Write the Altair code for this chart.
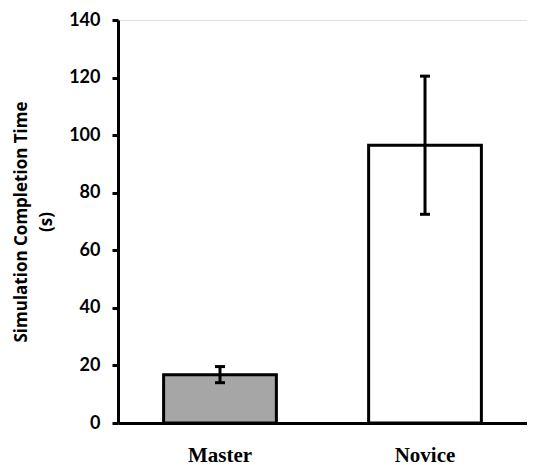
import altair as alt
import pandas as pd

groups = ["Master", "Novice"]
means = [16.8, 96.5]
errors = [2.8, 24.0]
fills = ["#a6a6a6", "#ffffff"]

df = pd.DataFrame({
    "group": groups,
    "mean": means,
    "lo": [m - e for m, e in zip(means, errors)],
    "hi": [m + e for m, e in zip(means, errors)],
    "fill": fills,
})

x = alt.X("group:N", sort=groups,
          scale=alt.Scale(paddingInner=0.45, paddingOuter=0.2225),
          axis=alt.Axis(title=None, ticks=False, labelAngle=0,
                        labelFont="Liberation Serif", labelFontWeight="bold",
                        labelFontSize=21, labelColor="black", labelPadding=21,
                        domainColor="black", domainWidth=3))

y = alt.Y("mean:Q",
          scale=alt.Scale(domain=[0, 140], nice=False),
          axis=alt.Axis(values=list(range(0, 141, 20)), grid=False,
                        title=["Simulation Completion Time", "(s)"],
                        titleFont="Open Sans", titleFontWeight="bold",
                        titleFontSize=17, titleColor="black", titlePadding=13,
                        titleLineHeight=25,
                        labelFont="Lato", labelFontWeight="bold",
                        labelFontSize=18, labelColor="black", labelPadding=12,
                        tickSize=6, tickWidth=3, tickColor="black",
                        domainColor="black", domainWidth=3))

bars = alt.Chart(df).mark_bar(stroke="black", strokeWidth=3).encode(
    x=x, y=y, fill=alt.Fill("fill:N", scale=None))

rules = alt.Chart(df).mark_rule(color="black", strokeWidth=3).encode(
    x=alt.X("group:N", sort=groups), y="lo:Q", y2="hi:Q")

caps_lo = alt.Chart(df).mark_tick(color="black", size=10, thickness=3, opacity=1).encode(
    x=alt.X("group:N", sort=groups), y="lo:Q")
caps_hi = alt.Chart(df).mark_tick(color="black", size=10, thickness=3, opacity=1).encode(
    x=alt.X("group:N", sort=groups), y="hi:Q")

chart = alt.layer(bars, rules, caps_lo, caps_hi).properties(
    width=409, height=403,
    autosize=alt.AutoSizeParams(type="none"),
    padding={"left": 110, "top": 12, "right": 0, "bottom": 44},
).configure_view(stroke=None).configure(background="white")

chart.save("out.html", embed_options={"renderer": "svg", "actions": False})
